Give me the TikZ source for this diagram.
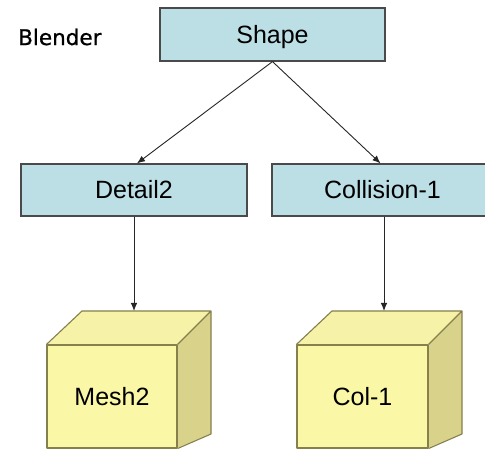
\documentclass[tikz,border=0pt]{standalone}
\usepackage{fontspec}
\setmainfont{Liberation Sans}
\newfontfamily\titlefont[FakeBold=0.8]{DejaVu Sans}
\usetikzlibrary{calc,arrows.meta}
\definecolor{boxfill}{HTML}{BBDFE4}
\definecolor{boxline}{HTML}{4A4A4A}
\definecolor{cubefront}{HTML}{FAF8A6}
\definecolor{cubetop}{HTML}{F6F2A8}
\definecolor{cubeside}{HTML}{D8D28A}
\definecolor{cubeline}{HTML}{85804C}
\tikzset{
  lvl/.style={draw=boxline, line width=1.2pt, fill=boxfill, inner sep=0pt,
    font=\fontsize{25}{25}\selectfont, text height=17.9pt, text depth=0pt},
  face/.style={draw=cubeline, line width=1.1pt, line join=round},
  cubefrontbox/.style={face, fill=cubefront, inner sep=0pt,
    minimum width=130pt, minimum height=103pt,
    font=\fontsize{25}{25}\selectfont, text height=17.9pt, text depth=0pt},
  link/.style={draw=black!85, line width=0.9pt, -{Latex[length=8pt,width=6.5pt]}}
}
\begin{document}
\begin{tikzpicture}[x=1pt,y=-1pt]
\useasboundingbox (0,0) rectangle (485,449);
\fill[white] (0,0) rectangle (485,449);
\clip (0,0) rectangle (485,449);

% heading
\node[anchor=west, inner sep=0pt, font=\titlefont\fontsize{21.5}{21.5}\selectfont] (title) at (18,37) {Blender};

% hierarchy boxes
\node[lvl, minimum width=225pt, minimum height=53pt] (shape) at (272.5,34.5) {Shape};
\node[lvl, minimum width=226pt, minimum height=52pt] (det) at (134,190) {Detail2};
\node[lvl, minimum width=221pt, minimum height=52pt] (coll) at (382.5,190) {Collision-1};

% cube for the mesh
\fill[cubetop] (47,345) -- (82,311) -- (211,311) -- (177,345) -- cycle;
\fill[cubeside] (177,345) -- (211,311) -- (211,434) -- (177,448) -- cycle;
\node[cubefrontbox] (mesh) at (112,396.5) {Mesh2};
\draw[face] (mesh.north west) -- (82,311) -- (211,311) -- (mesh.north east)
  (211,311) -- (211,434) -- (mesh.south east);
\coordinate (meshtop) at (146,311);

% cube for the collision mesh
\fill[cubetop] (297,345) -- (332,311) -- (462,311) -- (428,345) -- cycle;
\fill[cubeside] (428,345) -- (462,311) -- (462,434) -- (428,448) -- cycle;
\node[cubefrontbox, minimum width=131pt] (col) at (362.5,396.5) {Col-1};
\draw[face] (col.north west) -- (332,311) -- (462,311) -- (col.north east)
  (462,311) -- (462,434) -- (col.south east);
\coordinate (coltop) at (397,311);

% connector anchors
\coordinate (detin) at ($(det.north)+(3,0)$);
\coordinate (collin) at ($(coll.north)+(-2,0)$);
\coordinate (collout) at ($(coll.south)+(1.5,0)$);

% connectors
\draw[link] (shape.south) -- (detin);
\draw[link] (shape.south) -- (collin);
\draw[link] (det.south) -- (det.south |- meshtop);
\draw[link] (collout) -- (collout |- coltop);
\end{tikzpicture}
\end{document}
